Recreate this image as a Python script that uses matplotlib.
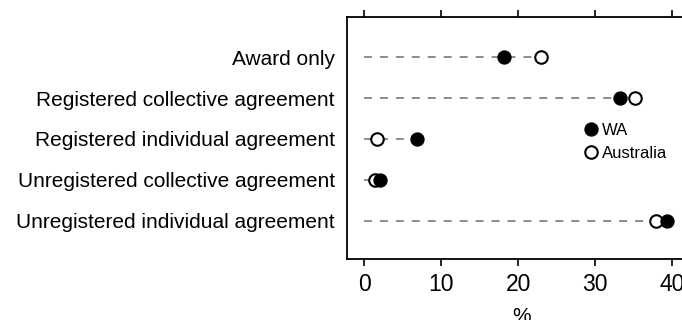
import numpy as np
import matplotlib.pyplot as plt

plt.rcParams['font.family'] = ['Liberation Sans', 'DejaVu Sans']

categories = ['Award only', 'Registered collective agreement',
              'Registered individual agreement', 'Unregistered collective agreement',
              'Unregistered individual agreement']
wa = [18.2, 33.2, 6.8, 2.0, 39.3]
australia = [23.0, 35.2, 1.7, 1.4, 37.9]

fig = plt.figure(figsize=(6.82, 3.2), dpi=100)
ax = fig.add_axes([0.5095, 0.1897, 0.5095, 0.7563])

y = np.arange(len(categories))

# dashed guide from zero out to the larger of the two values
for yi, a, b in zip(y, wa, australia):
    ax.plot([0, max(a, b)], [yi, yi], color='#8c8c8c', lw=1.4,
            dashes=(4.1, 4.1), zorder=1)

ax.plot(australia, y, 'o', ms=9, mfc='white', mec='black', mew=1.5,
        label='Australia', zorder=2)
ax.plot(wa, y, 'o', ms=9.3, mfc='black', mec='black', label='WA', zorder=3)

ax.set_xlim(-2.2, 43)
ax.set_ylim(4.95, -0.98)
ax.set_xticks([0, 10, 20, 30, 40])
ax.set_yticks(y)
ax.set_yticklabels(categories, fontsize=15)
ax.tick_params(axis='y', length=0, pad=9)
ax.tick_params(axis='x', direction='out', length=5, width=1.2, labelsize=16.5,
               top=True, pad=5)
for s in ax.spines.values():
    s.set_linewidth(1.3)

ax.set_xlabel('%', fontsize=15, labelpad=8)

handles, labels = ax.get_legend_handles_labels()
ax.legend(handles[::-1], labels[::-1], loc='upper left',
          bbox_to_anchor=(0.652, 0.59), frameon=False, fontsize=12,
          handletextpad=0.1, handlelength=1.2, labelspacing=0.45,
          borderaxespad=0)

fig.savefig('out.png', dpi=100)
